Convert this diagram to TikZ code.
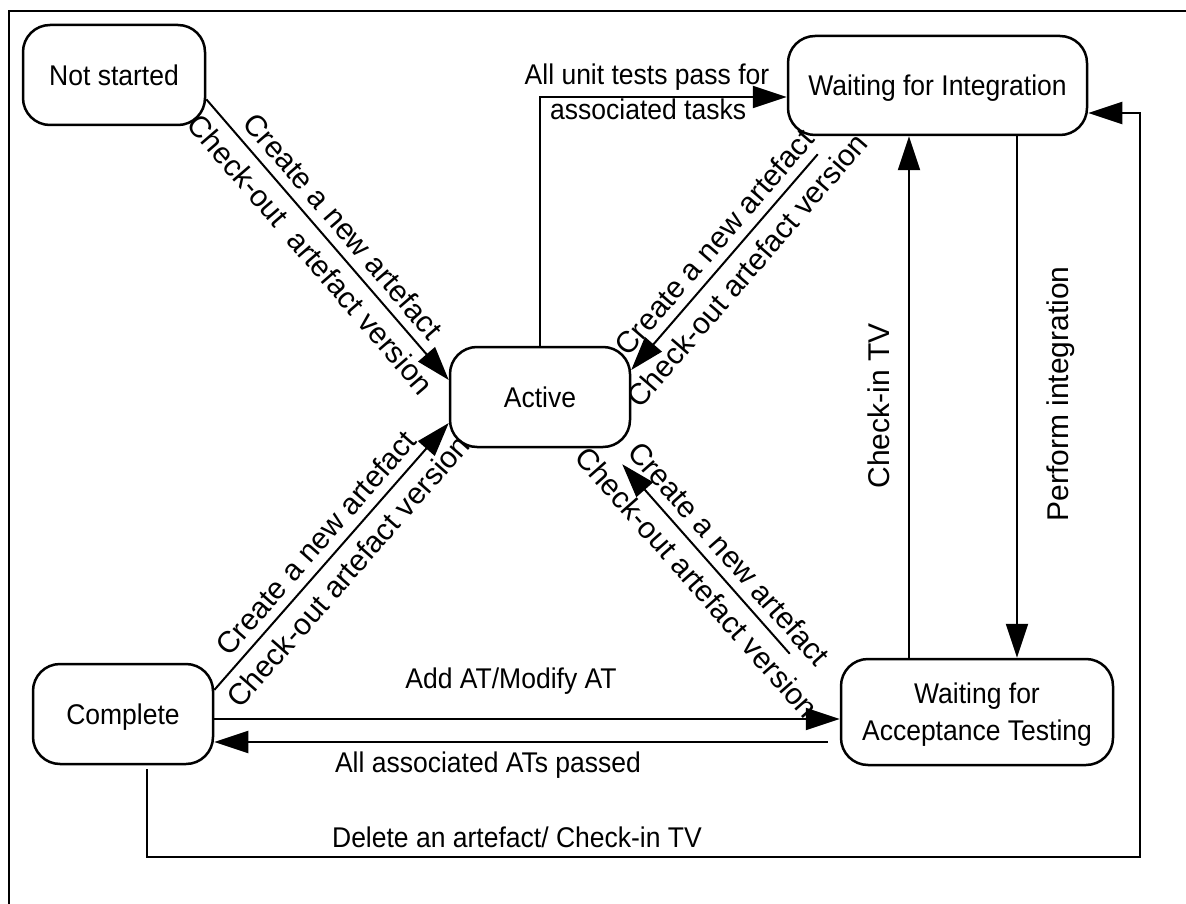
\documentclass[tikz,border=0pt]{standalone}
\usepackage{fontspec}
\setmainfont{Liberation Sans}
\newfontfamily\narrowsans[FakeStretch=0.93]{Liberation Sans}
\usetikzlibrary{arrows.meta,calc}

\begin{document}
\begin{tikzpicture}[x=1pt,y=-1pt,
  state/.style={draw, line width=2.5pt, rounded corners=27pt, inner sep=0pt,
    font=\narrowsans\fontsize{28.5}{37}\selectfont, align=center, text depth=0pt},
  flow/.style={line width=2pt, -{Triangle[length=34pt,width=22pt]}},
  plain/.style={line width=2pt},
  tlabel/.style={font=\narrowsans\fontsize{28.5}{37}\selectfont, inner sep=0pt},
  rlabel/.style={font=\fontsize{30}{36}\selectfont, inner sep=0pt},
  slabel/.style={rlabel, sloped},
  upper/.style={anchor=south, outer sep=#1},
  lower/.style={anchor=north, outer sep=#1},
]
\useasboundingbox (0,0) rectangle (1186,904);

% frame
\draw[plain] (1186,11) -- (9,11) -- (9,904);

% states
\node[state, minimum width=182pt, minimum height=100pt] (ns)  at (114,75)    {Not started};
\node[state, minimum width=180pt, minimum height=100pt] (act) at (540,397)   {Active};
\node[state, minimum width=299pt, minimum height=99pt]  (wfi) at (937.5,85.5) {Waiting for Integration};
\node[state, minimum width=180pt, minimum height=100pt] (cmp) at (123,714)   {Complete};
\node[state, minimum width=272pt, minimum height=106pt] (wat) at (977,712)   {Waiting for\\Acceptance Testing};

% free line ends
\coordinate (wfiOut)  at ($(wfi.south west)+(31,18)$);
\coordinate (watOut)  at ($(wat.north west)+(-50,-4)$);
\coordinate (actIn)   at ($(act.south east)+(-9,16)$);
\coordinate (watBack) at ($(wat.west)+(-12,30)$);
\coordinate (cmpOut)  at ($(cmp.south)+(24,4)$);
\coordinate (ciX)     at ($(wat.north)+(-68,0)$);
\coordinate (piX)     at ($(wfi.south)+(79.5,0)$);

% Not started -> Active
\draw[flow] ($(ns.south east)+(0,-27)$) -- ($(act.west)+(0,-17)$)
  node[slabel, pos=0.5, upper=10pt] (l1a) {Create a new artefact}
  node[slabel, pos=0.5, lower=11pt] (l1b) {Check-out\ \ artefact version};

% Active -> Waiting for Integration
\draw[flow] (act.north) |- ($(wfi.west)+(0,11.5)$);
\node[tlabel, anchor=base] (l2a) at (647,85) {All unit tests pass for};
\node[tlabel, anchor=base west] (l2b) at (550,120) {associated tasks};

% Waiting for Integration -> Active
\draw[flow] (wfiOut) -- ($(act.east)+(0,-27)$)
  node[slabel, pos=0.47, upper=10pt] (l3a) {Create a new artefact}
  node[slabel, pos=0.47, lower=11pt] (l3b) {Check-out artefact version};

% Complete -> Active
\draw[flow] ($(cmp.east)+(0,-24)$) -- ($(act.west)+(0,26)$)
  node[slabel, pos=0.5, upper=10pt] (l4a) {Create a new artefact}
  node[slabel, pos=0.5, lower=11pt] (l4b) {Check-out artefact version};

% Waiting for Acceptance Testing -> Active
\draw[flow] (watOut) -- (actIn)
  node[slabel, pos=0.455, upper=10pt] (l5a) {Create a new artefact}
  node[slabel, pos=0.455, lower=11pt] (l5b) {Check-out artefact version};

% Complete <-> Waiting for Acceptance Testing
\draw[flow] ($(cmp.east)+(0,5)$) -- ($(wat.west)+(0,7)$);
\node[tlabel, anchor=base] (l6) at (511,688) {Add AT/Modify AT};
\draw[flow] (watBack) -- ($(cmp.east)+(0,28)$);
\node[tlabel, anchor=base] (l7) at (488,772) {All associated ATs passed};

% Complete -> Waiting for Integration (around the outside)
\draw[flow] (cmpOut) |- (1140,857) |- ($(wfi.east)+(0,27.5)$);
\node[tlabel, anchor=base] (l8) at (517,847) {Delete an artefact/ Check-in TV};

% Waiting for Acceptance Testing -> Waiting for Integration
\draw[flow] (ciX) -- (ciX |- wfi.south)
  node[rlabel, rotate=90, pos=0.483, upper=19pt] (l9) {Check-in TV};

% Waiting for Integration -> Waiting for Acceptance Testing
\draw[flow] (piX) -- (piX |- wat.north)
  node[rlabel, rotate=90, pos=0.494, lower=30pt] (l10) {Perform integration};
\end{tikzpicture}
\end{document}
